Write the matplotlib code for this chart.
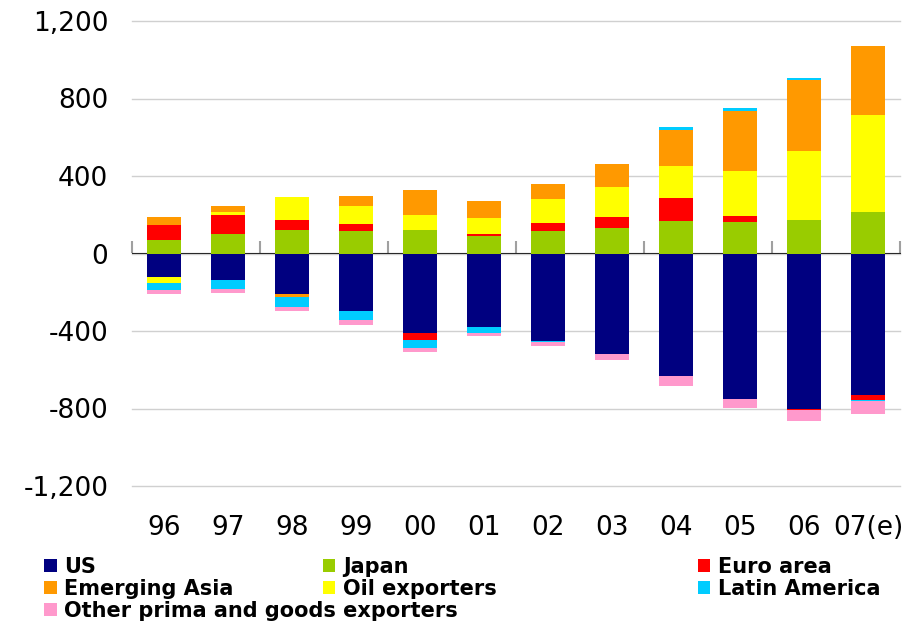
import matplotlib
matplotlib.use("Agg")
import matplotlib.pyplot as plt
import numpy as np

years = ["96", "97", "98", "99", "00", "01", "02", "03", "04", "05", "06", "07(e)"]

us = [-122, -138, -210, -298, -411, -380, -451, -520, -633, -752, -803, -731]
japan = [69, 100, 120, 115, 120, 89, 114, 134, 170, 165, 175, 212]
euro = [77, 98, 52, 36, -36, 10, 46, 52, 114, 26, -5, -24]
oil = [-31, 15, 118, 93, 77, 82, 119, 155, 170, 237, 356, 505]
em_asia = [41, 31, -17, 52, 129, 88, 82, 123, 186, 310, 363, 356]
latam = [-36, -46, -50, -46, -41, -31, -5, 0, 15, 15, 14, -8]
other = [-21, -21, -21, -26, -21, -16, -22, -31, -52, -46, -57, -66]

# stacking order (as in the chart) and legend labels
series = [
    ("US", us, "#000080"),
    ("Japan", japan, "#99CC00"),
    ("Euro area", euro, "#FF0000"),
    ("Oil exporters", oil, "#FFFF00"),
    ("Emerging Asia", em_asia, "#FF9900"),
    ("Latin America", latam, "#00CCFF"),
    ("Other prima and goods exporters", other, "#FF99CC"),
]

fig = plt.figure(figsize=(9.03, 6.25), dpi=100)
ax = fig.add_axes([132 / 903, 1 - 486 / 625, 768 / 903, 465 / 625])

x = np.arange(len(years))
pos = np.zeros(len(years))
neg = np.zeros(len(years))
handles = {}
for name, vals, col in series:
    v = np.array(vals, dtype=float)
    bottom = np.where(v >= 0, pos, neg)
    b = ax.bar(x, v, 0.52, bottom=bottom, color=col, zorder=3, linewidth=0)
    handles[name] = b
    pos = pos + np.where(v > 0, v, 0)
    neg = neg + np.where(v < 0, v, 0)

ax.set_xlim(-0.5, len(years) - 0.5)
ax.set_ylim(-1200, 1200)
ax.set_yticks(np.arange(-1200, 1201, 400))
ax.yaxis.set_major_formatter(matplotlib.ticker.FuncFormatter(lambda v, p: f"{v:,.0f}"))
ax.grid(axis="y", color="#D0D0D0", linewidth=1.0, zorder=0)
for gl in ax.get_ygridlines():
    gl.set_clip_on(False)
for s in ax.spines.values():
    s.set_visible(False)
ax.tick_params(axis="y", length=0, pad=17, labelsize=19)
ax.set_xticks(x)
ax.set_xticklabels(years)
ax.tick_params(axis="x", length=0, pad=21, labelsize=19)

# category axis drawn at zero
sec = ax.secondary_xaxis(0.5)
sec.set_xticks(np.arange(-0.5, len(years), 2))
sec.set_xticklabels([])
sec.tick_params(length=9, width=1.5, color="#A0A0A0", direction="out")
sec.spines["bottom"].set_color("#A0A0A0")
sec.spines["bottom"].set_linewidth(1.8)
sec.spines["bottom"].set_zorder(4)

cols = [
    (44, ["US", "Emerging Asia", "Other prima and goods exporters"]),
    (323, ["Japan", "Oil exporters"]),
    (698, ["Euro area", "Latin America"]),
]
for xp, names in cols:
    fig.legend([handles[n] for n in names], names, loc="upper left",
               bbox_to_anchor=(xp / 903, 1 - 557 / 625), frameon=False,
               borderpad=0, borderaxespad=0, handlelength=0.6, handleheight=0.6,
               handletextpad=0.35, labelspacing=0.1,
               prop={"weight": "bold", "size": 15})

fig.savefig("out.png", dpi=100)
